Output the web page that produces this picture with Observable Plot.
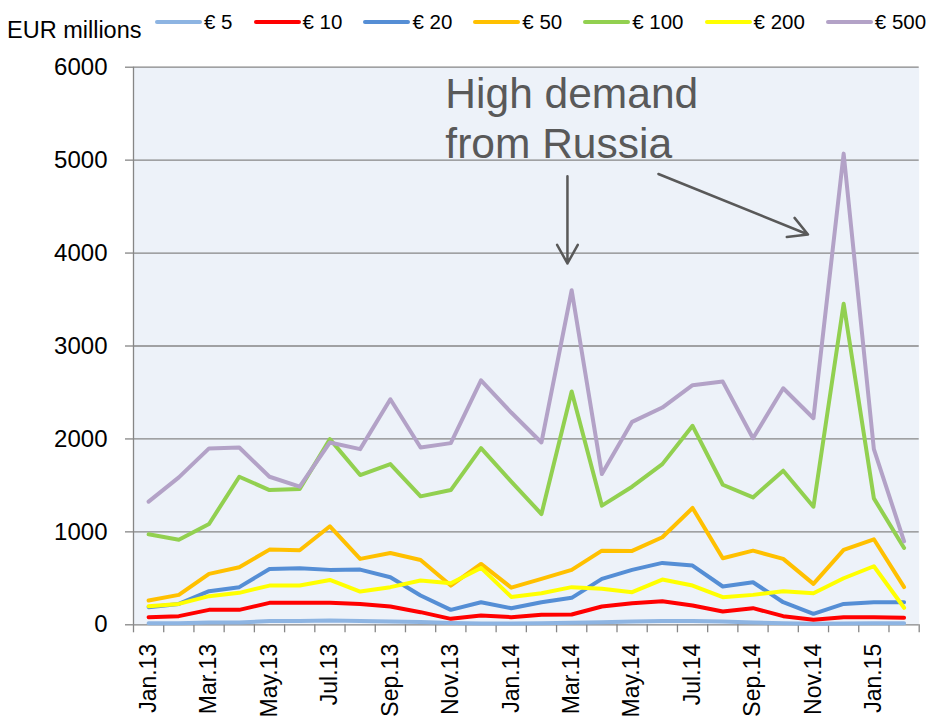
<!DOCTYPE html>
<html><head><meta charset="utf-8">
<script src="https://cdn.jsdelivr.net/npm/d3@7"></script>
<script src="https://cdn.jsdelivr.net/npm/@observablehq/plot@0.6"></script>
<style>
body{margin:0;background:#fff;font-family:"Liberation Sans",Arial,sans-serif;}
#wrap{width:935px;}
#head{position:relative;height:45px;}
#ytitle{position:absolute;left:7px;top:18px;font-size:23.5px;line-height:24px;color:#000;white-space:nowrap;}
#legend{position:absolute;left:155px;top:12px;display:flex;align-items:center;font-size:20.5px;line-height:20px;color:#000;white-space:nowrap;}
.item{display:flex;align-items:center;margin-right:21px;}
.sw{width:47px;height:4.5px;border-radius:3px;margin-right:2px;}
</style></head><body>
<div id="wrap"><div id="head"><div id="ytitle">EUR millions</div><div id="legend"></div></div><div id="chart"></div></div>
<script>
const months = ["Jan.13","Feb.13","Mar.13","Apr.13","May.13","Jun.13","Jul.13","Aug.13","Sep.13","Oct.13","Nov.13","Dec.13",
  "Jan.14","Feb.14","Mar.14","Apr.14","May.14","Jun.14","Jul.14","Aug.14","Sep.14","Oct.14","Nov.14","Dec.14","Jan.15","Feb.15"];
const tickLabels = ["Jan.13","Mar.13","May.13","Jul.13","Sep.13","Nov.13","Jan.14","Mar.14","May.14","Jul.14","Sep.14","Nov.14","Jan.15"];
const seriesNames = ["€ 5","€ 10","€ 20","€ 50","€ 100","€ 200","€ 500"];
const seriesColors = ["#8DB4E2","#FF0000","#558ED5","#FFC000","#92D050","#FFFF00","#B3A2C7"];
const e5   = [18,18,25,25,40,40,45,40,35,30,20,15,15,18,22,28,35,40,40,35,25,18,10,15,18,18];
const e10  = [82,93,161,161,236,236,236,225,197,136,64,100,82,107,111,197,233,254,208,143,179,93,54,82,82,75];
const e20  = [190,225,362,405,601,609,591,594,512,315,161,243,179,243,290,494,591,666,637,412,458,243,118,225,243,243];
const e50  = [261,322,548,619,809,802,1060,709,773,698,422,655,400,494,591,798,795,942,1257,716,798,709,440,806,920,405];
const e100 = [974,916,1085,1593,1450,1461,1998,1611,1729,1382,1450,1901,1540,1192,2510,1282,1486,1729,2141,1507,1371,1658,1271,3454,1360,827];
const e200 = [200,225,308,344,422,422,483,358,405,476,448,612,300,340,405,387,351,487,422,297,322,362,340,501,630,183];
const e500 = [1325,1586,1898,1908,1593,1486,1962,1890,2427,1908,1955,2631,2284,1962,3600,1622,2184,2338,2578,2617,2008,2545,2223,5070,1890,899];
const yTicks = [0,1000,2000,3000,4000,5000,6000];
const annotationLines = ["High demand","from Russia"];
const annotationAnchor = [{x: 9.82, y: 5945}];
const arrowsData = [
  {x1: 13.86, y1: 4826, x2: 13.86, y2: 3888},
  {x1: 16.87, y1: 4851, x2: 21.82, y2: 4200}
];

const seriesValues = [e5, e10, e20, e50, e100, e200, e500];
const rows = [];
seriesValues.forEach((vals, s) => vals.forEach((v, i) => rows.push({i, v, s: seriesNames[s]})));
const tickIdx = tickLabels.map(l => months.indexOf(l));

// legend
const legend = document.getElementById("legend");
seriesNames.forEach((n, k) => {
  const it = document.createElement("div"); it.className = "item";
  const sw = document.createElement("div"); sw.className = "sw"; sw.style.background = seriesColors[k];
  const t = document.createElement("span"); t.textContent = n;
  it.appendChild(sw); it.appendChild(t); legend.appendChild(it);
});

const plot = Plot.plot({
  width: 935, height: 680,
  marginTop: 21.7, marginBottom: 100.7, marginLeft: 133, marginRight: 16.3,
  style: {fontFamily: "Liberation Sans, Arial, sans-serif", background: "transparent", overflow: "visible", color: "#000"},
  x: {type: "linear", domain: [-0.5, months.length - 0.5]},
  y: {domain: [0, 6000]},
  color: {domain: seriesNames, range: seriesColors},
  marks: [
    Plot.frame({fill: "#EDF2F9", stroke: "none"}),
    Plot.gridY(yTicks, {stroke: "#868686", strokeOpacity: 1, strokeWidth: 1.3}),
    Plot.ruleX([-0.5], {stroke: "#868686", strokeWidth: 1.3}),
    Plot.axisY(yTicks, {tickSize: 8, tickPadding: 18, fontSize: 24, tickFormat: d => String(d), stroke: "#868686", strokeWidth: 1.3, fill: "#000", label: null}),
    Plot.axisX(d3.range(-0.5, months.length, 1), {tickSize: 8, tickFormat: () => "", stroke: "#868686", strokeWidth: 1.3, label: null}),
    Plot.axisX(tickIdx, {tickSize: 0, tickPadding: 19, tickRotate: -90, tickFormat: i => months[i], fontSize: 23, fill: "#000", label: null}),
    Plot.line(rows, {x: "i", y: "v", stroke: "s", z: "s", strokeWidth: 4, strokeLinejoin: "round", strokeLinecap: "round"}),
    Plot.text(annotationAnchor, {x: "x", y: "y", text: () => annotationLines.join("\n"), textAnchor: "start", lineAnchor: "top", fontSize: 42.5, lineHeight: 1.18, fill: "#595959"}),
    Plot.arrow(arrowsData, {x1: "x1", y1: "y1", x2: "x2", y2: "y2", stroke: "#595959", strokeWidth: 2.5, headLength: 12.8, headAngle: 58})
  ]
});
document.getElementById("chart").appendChild(plot);
</script>
</body></html>
